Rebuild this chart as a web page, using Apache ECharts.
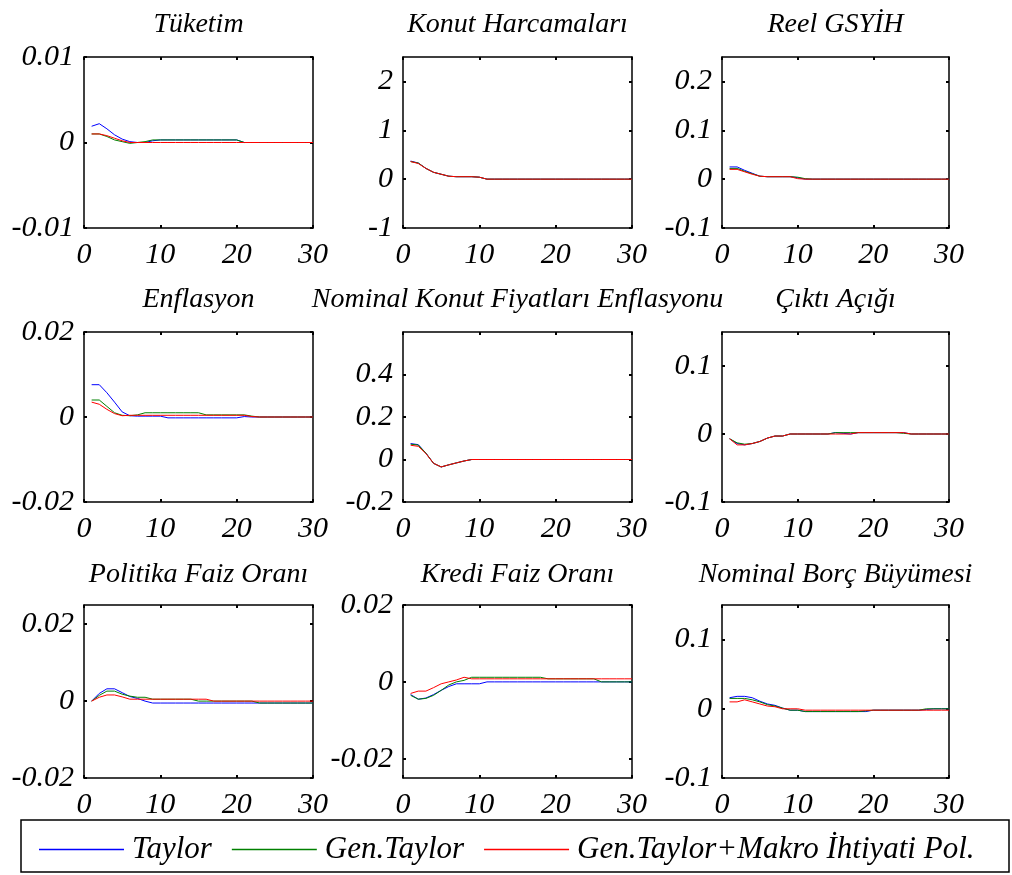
<!DOCTYPE html>
<html>
<head>
<meta charset="utf-8">
<script src="https://cdn.jsdelivr.net/npm/echarts@6/dist/echarts.min.js"></script>
<style>
  html, body { margin: 0; padding: 0; background: #fff; }
  #chart { width: 1012px; height: 875px; }
</style>
</head>
<body>
<div id="chart"></div>
<script>
// donem (x ekseni)
const periods = [1, 2, 3, 4, 5, 6, 7, 8, 9, 10, 11, 12, 13, 14, 15, 16, 17, 18, 19, 20, 21, 22, 23, 24, 25, 26, 27, 28, 29, 30]
const xTicks = [0, 10, 20, 30]
const seriesNames = ['Taylor', 'Gen.Taylor', 'Gen.Taylor+Makro İhtiyati Pol.']

// Tüketim
const tuketimTaylor = [0.0019, 0.0022, 0.0016, 0.0009, 0.0004, 0.0001, 0, 0, 0.0002, 0.0003, 0.0003, 0.0003, 0.0003, 0.0003, 0.0003, 0.0003, 0.0003, 0.0003, 0.0003, 0.0003, 0, 0, 0, 0, 0, 0, 0, 0, 0, 0]
const tuketimGen = [0.001, 0.001, 0.0007, 0.0003, 0.0001, -0.0001, 0, 0.0001, 0.0003, 0.0003, 0.0003, 0.0003, 0.0003, 0.0003, 0.0003, 0.0003, 0.0003, 0.0003, 0.0003, 0.0003, 0, 0, 0, 0, 0, 0, 0, 0, 0, 0]
const tuketimMakro = [0.001, 0.001, 0.0008, 0.0005, 0.0002, 0, 0, 0, 0, 0, 0, 0, 0, 0, 0, 0, 0, 0, 0, 0, 0, 0, 0, 0, 0, 0, 0, 0, 0, 0]
const tuketimTicks = [-0.01, 0, 0.01]

// Konut Harcamaları
const konutTaylor = [0.37, 0.33, 0.22, 0.14, 0.1, 0.06, 0.05, 0.05, 0.05, 0.04, 0, 0, 0, 0, 0, 0, 0, 0, 0, 0, 0, 0, 0, 0, 0, 0, 0, 0, 0, 0]
const konutGen = [0.36, 0.33, 0.22, 0.14, 0.1, 0.06, 0.05, 0.05, 0.05, 0.04, 0, 0, 0, 0, 0, 0, 0, 0, 0, 0, 0, 0, 0, 0, 0, 0, 0, 0, 0, 0]
const konutMakro = [0.36, 0.32, 0.22, 0.14, 0.1, 0.06, 0.05, 0.05, 0.05, 0.04, 0, 0, 0, 0, 0, 0, 0, 0, 0, 0, 0, 0, 0, 0, 0, 0, 0, 0, 0, 0]
const konutTicks = [-1, 0, 1, 2]

// Reel GSYİH
const gsyihTaylor = [0.025, 0.025, 0.018, 0.012, 0.006, 0.005, 0.005, 0.005, 0.005, 0.003, 0, 0, 0, 0, 0, 0, 0, 0, 0, 0, 0, 0, 0, 0, 0, 0, 0, 0, 0, 0]
const gsyihGen = [0.022, 0.022, 0.016, 0.011, 0.006, 0.005, 0.005, 0.005, 0.005, 0.004, 0.001, 0, 0, 0, 0, 0, 0, 0, 0, 0, 0, 0, 0, 0, 0, 0, 0, 0, 0, 0]
const gsyihMakro = [0.02, 0.02, 0.015, 0.01, 0.006, 0.005, 0.005, 0.005, 0.005, 0.001, 0, 0, 0, 0, 0, 0, 0, 0, 0, 0, 0, 0, 0, 0, 0, 0, 0, 0, 0, 0]
const gsyihTicks = [-0.1, 0, 0.1, 0.2]

// Enflasyon
const enfTaylor = [0.0076, 0.0076, 0.0057, 0.0035, 0.0012, 0.0003, 0.0002, 0.0002, 0.0002, 0.0002, -0.0002, -0.0002, -0.0002, -0.0002, -0.0002, -0.0002, -0.0002, -0.0002, -0.0002, -0.0002, 0.0001, 0, 0, 0, 0, 0, 0, 0, 0, 0]
const enfGen = [0.004, 0.004, 0.0025, 0.001, 0.0004, 0.0003, 0.0005, 0.001, 0.001, 0.001, 0.001, 0.001, 0.001, 0.001, 0.001, 0.0005, 0.0005, 0.0005, 0.0005, 0.0005, 0.0005, 0.0002, 0, 0, 0, 0, 0, 0, 0, 0]
const enfMakro = [0.0035, 0.003, 0.0018, 0.0008, 0.0003, 0.0004, 0.0004, 0.0004, 0.0004, 0.0004, 0.0004, 0.0004, 0.0004, 0.0004, 0.0004, 0.0004, 0.0004, 0.0004, 0.0004, 0.0004, 0.0004, 0.0001, 0, 0, 0, 0, 0, 0, 0, 0]
const enfTicks = [-0.02, 0, 0.02]

// Nominal Konut Fiyatları Enflasyonu
const fiyatTaylor = [0.075, 0.07, 0.03, -0.018, -0.035, -0.025, -0.016, -0.007, 0, 0, 0, 0, 0, 0, 0, 0, 0, 0, 0, 0, 0, 0, 0, 0, 0, 0, 0, 0, 0, 0]
const fiyatGen = [0.072, 0.068, 0.03, -0.018, -0.035, -0.025, -0.016, -0.007, 0, 0, 0, 0, 0, 0, 0, 0, 0, 0, 0, 0, 0, 0, 0, 0, 0, 0, 0, 0, 0, 0]
const fiyatMakro = [0.067, 0.062, 0.028, -0.018, -0.035, -0.025, -0.016, -0.007, 0, 0, 0, 0, 0, 0, 0, 0, 0, 0, 0, 0, 0, 0, 0, 0, 0, 0, 0, 0, 0, 0]
const fiyatTicks = [-0.2, 0, 0.2, 0.4]

// Çıktı Açığı
const aciktTaylor = [-0.007, -0.014, -0.016, -0.014, -0.011, -0.006, -0.003, -0.003, 0, 0, 0, 0, 0, 0, 0.002, 0.001, 0, 0.002, 0.002, 0.002, 0.002, 0.002, 0.002, 0.002, 0, 0, 0, 0, 0, 0]
const aciktGen = [-0.007, -0.013, -0.015, -0.014, -0.011, -0.006, -0.003, -0.003, 0, 0, 0, 0, 0, 0, 0.002, 0.002, 0.002, 0.002, 0.002, 0.002, 0.002, 0.002, 0.002, 0.001, 0, 0, 0, 0, 0, 0]
const aciktMakro = [-0.007, -0.016, -0.016, -0.014, -0.011, -0.006, -0.003, -0.003, 0, 0, 0, 0, 0, 0, 0, 0, 0, 0.002, 0.002, 0.002, 0.002, 0.002, 0.002, 0.002, 0, 0, 0, 0, 0, 0]
const aciktTicks = [-0.1, 0, 0.1]

// Politika Faiz Oranı
const politikaTaylor = [0, 0.002, 0.0032, 0.0032, 0.0022, 0.0012, 0.0007, 0, -0.0005, -0.0005, -0.0005, -0.0005, -0.0005, -0.0005, -0.0005, -0.0005, -0.0005, -0.0005, -0.0005, -0.0005, -0.0005, -0.0005, -0.0005, -0.0005, -0.0005, -0.0005, -0.0005, -0.0005, -0.0005, -0.0005]
const politikaGen = [0, 0.0015, 0.0026, 0.0026, 0.0018, 0.0013, 0.001, 0.001, 0.0005, 0.0005, 0.0005, 0.0005, 0.0005, 0.0005, 0, 0, 0, 0, 0, 0, 0, 0, -0.0005, -0.0005, -0.0005, -0.0005, -0.0005, -0.0005, -0.0005, -0.0005]
const politikaMakro = [0, 0.001, 0.0016, 0.0016, 0.0011, 0.0005, 0.0005, 0.0005, 0.0005, 0.0005, 0.0005, 0.0005, 0.0005, 0.0005, 0.0005, 0.0005, 0, 0, 0, 0, 0, 0, 0, 0, 0, 0, 0, 0, 0, 0]
const politikaTicks = [-0.02, 0, 0.02]

// Kredi Faiz Oranı
const krediTaylor = [-0.0033, -0.0045, -0.0042, -0.0033, -0.0022, -0.0012, -0.0005, -0.0005, -0.0005, -0.0005, 0, 0, 0, 0, 0, 0, 0, 0, 0, 0, 0, 0, 0, 0, 0, 0, 0, 0, 0, 0]
const krediGen = [-0.0035, -0.0045, -0.0043, -0.0035, -0.0022, -0.0008, 0, 0.0004, 0.0012, 0.0012, 0.0012, 0.0012, 0.0012, 0.0012, 0.0012, 0.0012, 0.0012, 0.0012, 0.0008, 0.0008, 0.0008, 0.0008, 0.0008, 0.0008, 0.0008, 0, 0, 0, 0, 0]
const krediMakro = [-0.003, -0.0024, -0.0024, -0.0015, -0.0005, 0, 0.0005, 0.0012, 0.0008, 0.0008, 0.0008, 0.0008, 0.0008, 0.0008, 0.0008, 0.0008, 0.0008, 0.0008, 0.0008, 0.0008, 0.0008, 0.0008, 0.0008, 0.0008, 0.0008, 0.0008, 0.0008, 0.0008, 0.0008, 0.0008]
const krediTicks = [-0.02, 0, 0.02]

// Nominal Borç Büyümesi
const borcTaylor = [0.016, 0.018, 0.018, 0.016, 0.011, 0.007, 0.005, 0.001, -0.002, -0.002, -0.004, -0.004, -0.004, -0.004, -0.004, -0.004, -0.004, -0.004, -0.004, -0.002, -0.002, -0.002, -0.002, -0.002, -0.002, -0.002, -0.001, 0, 0, 0]
const borcGen = [0.015, 0.015, 0.015, 0.013, 0.01, 0.006, 0.004, 0.001, -0.002, -0.002, -0.004, -0.004, -0.004, -0.004, -0.004, -0.004, -0.004, -0.004, -0.003, -0.002, -0.002, -0.002, -0.002, -0.002, -0.002, -0.002, 0, 0, 0, 0]
const borcMakro = [0.01, 0.01, 0.013, 0.01, 0.007, 0.004, 0.003, 0, 0, 0, -0.002, -0.002, -0.002, -0.002, -0.002, -0.002, -0.002, -0.002, -0.002, -0.002, -0.002, -0.002, -0.002, -0.002, -0.002, -0.002, -0.002, -0.002, -0.002, -0.002]
const borcTicks = [-0.1, 0, 0.1]

const panels = [
  { title: 'Tüketim', lines: [tuketimTaylor, tuketimGen, tuketimMakro], ticks: tuketimTicks, min: -0.01, max: 0.01 },
  { title: 'Konut Harcamaları', lines: [konutTaylor, konutGen, konutMakro], ticks: konutTicks, min: -1, max: 2.5 },
  { title: 'Reel GSYİH', lines: [gsyihTaylor, gsyihGen, gsyihMakro], ticks: gsyihTicks, min: -0.1, max: 0.25 },
  { title: 'Enflasyon', lines: [enfTaylor, enfGen, enfMakro], ticks: enfTicks, min: -0.02, max: 0.02 },
  { title: 'Nominal Konut Fiyatları Enflasyonu', lines: [fiyatTaylor, fiyatGen, fiyatMakro], ticks: fiyatTicks, min: -0.2, max: 0.6 },
  { title: 'Çıktı Açığı', lines: [aciktTaylor, aciktGen, aciktMakro], ticks: aciktTicks, min: -0.1, max: 0.15 },
  { title: 'Politika Faiz Oranı', lines: [politikaTaylor, politikaGen, politikaMakro], ticks: politikaTicks, min: -0.02, max: 0.025 },
  { title: 'Kredi Faiz Oranı', lines: [krediTaylor, krediGen, krediMakro], ticks: krediTicks, min: -0.025, max: 0.02 },
  { title: 'Nominal Borç Büyümesi', lines: [borcTaylor, borcGen, borcMakro], ticks: borcTicks, min: -0.1, max: 0.15 }
]

// yerlesim
const colLeft = [84, 403, 722]
const colWidth = [229, 229, 227]
const rowTop = [57, 332, 605]
const rowHeight = [171, 170, 173]
const titleTop = [11, 286, 561]
const colors = ['#0000ff', '#008000', '#ff0000']
const FONT = 'Liberation Serif'

const chart = echarts.init(document.getElementById('chart'))

const grid = []
const title = []
const xAxis = []
const yAxis = []
const series = []

const axisCommon = {
  axisLine: { show: true, onZero: false, lineStyle: { color: '#000', width: 1.5 } },
  axisTick: { show: true, inside: true, length: 3, lineStyle: { color: '#000', width: 2 } },
  splitLine: { show: false }
}
const labelStyle = { color: '#000', fontFamily: FONT, fontStyle: 'italic', fontSize: 30 }

panels.forEach((p, i) => {
  const r = Math.floor(i / 3)
  const c = i % 3
  grid.push({ left: colLeft[c], top: rowTop[r], width: colWidth[c], height: rowHeight[r], containLabel: false })
  title.push({
    text: p.title,
    left: colLeft[c] + colWidth[c] / 2,
    top: titleTop[r],
    textAlign: 'center',
    padding: 0,
    textStyle: { color: '#000', fontFamily: FONT, fontStyle: 'italic', fontWeight: 'normal', fontSize: 28 }
  })
  // alt ve ust x ekseni
  xAxis.push(Object.assign({}, axisCommon, {
    type: 'value', gridIndex: i, position: 'bottom', min: 0, max: 30,
    axisTick: Object.assign({}, axisCommon.axisTick, { customValues: xTicks }),
    axisLabel: Object.assign({}, labelStyle, { margin: 12, customValues: xTicks })
  }))
  xAxis.push(Object.assign({}, axisCommon, {
    type: 'value', gridIndex: i, position: 'top', min: 0, max: 30,
    axisTick: Object.assign({}, axisCommon.axisTick, { customValues: xTicks }),
    axisLabel: { show: false }
  }))
  // sol ve sag y ekseni
  yAxis.push(Object.assign({}, axisCommon, {
    type: 'value', gridIndex: i, position: 'left', min: p.min, max: p.max,
    axisTick: Object.assign({}, axisCommon.axisTick, { customValues: p.ticks }),
    axisLabel: Object.assign({}, labelStyle, { margin: 10, customValues: p.ticks })
  }))
  yAxis.push(Object.assign({}, axisCommon, {
    type: 'value', gridIndex: i, position: 'right', min: p.min, max: p.max,
    axisTick: Object.assign({}, axisCommon.axisTick, { customValues: p.ticks }),
    axisLabel: { show: false }
  }))
  p.lines.forEach((vals, k) => {
    series.push({
      name: seriesNames[k],
      type: 'line',
      xAxisIndex: 2 * i,
      yAxisIndex: 2 * i,
      data: periods.map((t, j) => [t, vals[j]]),
      symbol: 'none',
      lineStyle: { color: colors[k], width: 1 },
      itemStyle: { color: colors[k] },
      z: 2 + k
    })
  })
})

chart.setOption({
  animation: false,
  backgroundColor: '#fff',
  title: title,
  grid: grid,
  xAxis: xAxis,
  yAxis: yAxis,
  series: series,
  legend: {
    data: seriesNames.map((n, k) => ({ name: n, itemStyle: { color: colors[k], borderWidth: 0 } })),
    left: 34,
    top: 829,
    icon: 'rect',
    itemWidth: 85,
    itemHeight: 1.5,
    itemGap: 20,
    textStyle: { color: '#000', fontFamily: FONT, fontStyle: 'italic', fontSize: 31, padding: [0, 0, 0, 3] }
  },
  graphic: [
    {
      type: 'rect',
      shape: { x: 21, y: 820, width: 988, height: 52 },
      style: { fill: 'none', stroke: '#000', lineWidth: 1.5 },
      silent: true
    }
  ]
})
</script>
</body>
</html>
